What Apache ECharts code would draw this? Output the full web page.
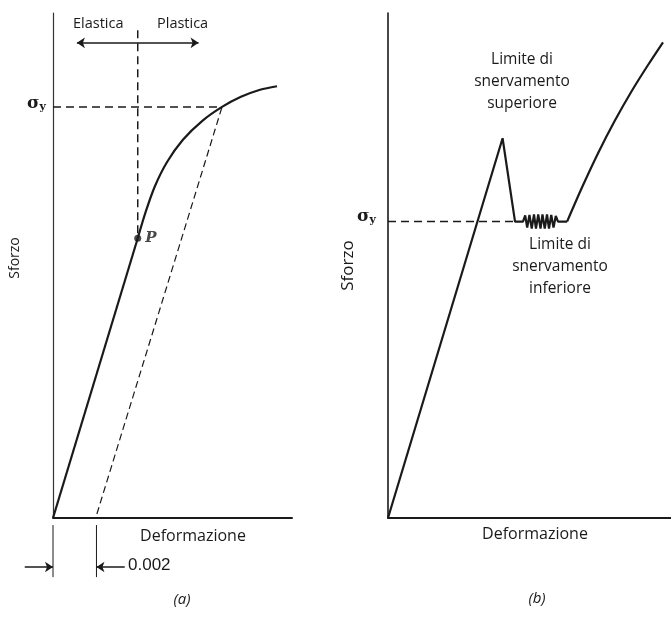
<!DOCTYPE html>
<html>
<head>
<meta charset="utf-8">
<script src="https://cdn.jsdelivr.net/npm/echarts@6/dist/echarts.min.js"></script>
<style>html,body{margin:0;padding:0;background:#fff}#c{width:671px;height:623px}</style>
</head>
<body>
<div id="c"></div>
<script>
// ---------- Data: panel (a) ----------
const aElastic = [[0, 0], [0.0039, 55.4]];
const aPlastic = [[0.0039, 55.4], [0.00428, 60.8], [0.00469, 65.7], [0.00525, 70.5], [0.00598, 74.9],
  [0.00686, 78.6], [0.00778, 81.4], [0.00865, 83.4], [0.00953, 84.8], [0.01031, 85.5]];
const aOffset = [[0.00202, 0.8], [0.00778, 81.4]];
const aSigmaY = 81.4;
const aSigmaX = 0.00778;
const aPoint = [0.0039, 55.4];
const aGuideTop = 96.6;
const aOffsetStrain = 0.002;
const aArrowY = 94.1;
const aArrowX = [0.0011, 0.0067];

// ---------- Data: panel (b) ----------
const bCurve = [[0, 0], [4.05, 75.2], [4.49, 58.7], [4.77, 58.7],
  [4.85, 59.9], [4.92, 57.5], [5.00, 60.0], [5.08, 57.3], [5.16, 60.1], [5.23, 57.3],
  [5.31, 60.1], [5.39, 57.3], [5.46, 60.1], [5.54, 57.3], [5.62, 60.1], [5.69, 57.3],
  [5.77, 60.0], [5.85, 57.5], [5.93, 59.8], [6.01, 58.7], [6.33, 58.7]];
const bRise = [[6.33, 58.7], [6.86, 65.5], [7.42, 72.2], [8.02, 78.7], [8.62, 84.6], [9.19, 89.7], [9.72, 94.2]];
const bSigmaY = 58.7;
const bSigmaEnd = 4.49;

const FONT = '"Open Sans", "DejaVu Sans", sans-serif';
const INK = '#1a1a1a';

const chart = echarts.init(document.getElementById('c'), null, {renderer: 'canvas'});

const dashed = (w) => ({color: INK, width: w, type: [8, 5]});
const plain = (w) => ({color: INK, width: w});

function axisBase(extra) {
  return Object.assign({
    type: 'value', axisTick: {show: false}, axisLabel: {show: false}, splitLine: {show: false}
  }, extra);
}

const option = {
  animation: false,
  backgroundColor: '#fff',
  grid: [
    {left: 53, top: 13, width: 239, height: 505, containLabel: false, outerBoundsMode: 'none'},
    {left: 388, top: 13, width: 290, height: 505, containLabel: false, outerBoundsMode: 'none'}
  ],
  xAxis: [
    axisBase({gridIndex: 0, min: 0, max: 0.011,
      axisLine: {lineStyle: {color: INK, width: 2}},
      name: 'Deformazione', nameLocation: 'middle', nameGap: 10,
      nameTextStyle: {fontFamily: FONT, fontSize: 16, color: INK, padding: [0, 0, 0, 41], verticalAlign: 'top'}}),
    axisBase({gridIndex: 1, min: 0, max: 10.25,
      axisLine: {lineStyle: {color: INK, width: 2}},
      name: 'Deformazione', nameLocation: 'middle', nameGap: 8,
      nameTextStyle: {fontFamily: FONT, fontSize: 16, color: INK, padding: [0, 0, 0, 4], verticalAlign: 'top'}})
  ],
  yAxis: [
    axisBase({gridIndex: 0, min: 0, max: 100,
      axisLine: {lineStyle: {color: '#333', width: 1.2}},
      name: 'Sforzo', nameLocation: 'middle', nameGap: 31, nameRotate: 90,
      nameTextStyle: {fontFamily: FONT, fontSize: 14, color: INK, padding: [0, 0, 0, 15]}}),
    axisBase({gridIndex: 1, min: 0, max: 100,
      axisLine: {lineStyle: {color: INK, width: 1.6}},
      name: 'Sforzo', nameLocation: 'middle', nameGap: 31, nameRotate: 90,
      nameTextStyle: {fontFamily: FONT, fontSize: 17, color: INK}})
  ],
  series: [
    // panel (a)
    {type: 'line', xAxisIndex: 0, yAxisIndex: 0, data: aElastic, symbol: 'none', lineStyle: plain(2.2), silent: true},
    {type: 'line', xAxisIndex: 0, yAxisIndex: 0, data: aPlastic, symbol: 'none', smooth: 0.3, lineStyle: plain(2.2), silent: true},
    {type: 'line', xAxisIndex: 0, yAxisIndex: 0, data: aOffset, symbol: 'none', lineStyle: {color: INK, width: 1.2, type: [7, 4]}, silent: true},
    {type: 'line', xAxisIndex: 0, yAxisIndex: 0, data: [[0, aSigmaY], [aSigmaX, aSigmaY]], symbol: 'none', lineStyle: dashed(1.5), silent: true},
    {type: 'line', xAxisIndex: 0, yAxisIndex: 0, data: [[aPoint[0], aGuideTop], aPoint], symbol: 'none', lineStyle: dashed(1.5), silent: true},
    {type: 'scatter', xAxisIndex: 0, yAxisIndex: 0, data: [aPoint], symbolSize: 7, itemStyle: {color: INK},
      label: {show: true, position: 'right', distance: 4, formatter: 'P',
        fontFamily: '"DejaVu Serif", "Liberation Serif", serif', fontStyle: 'italic', fontWeight: 'bold', fontSize: 15, color: INK}, silent: true},
    // offset guides below axis
    {type: 'line', xAxisIndex: 0, yAxisIndex: 0, clip: false, data: [[0, -1.4], [0, -11.7]], symbol: 'none', lineStyle: plain(1), silent: true},
    {type: 'line', xAxisIndex: 0, yAxisIndex: 0, clip: false, data: [[aOffsetStrain, -1.4], [aOffsetStrain, -11.7]], symbol: 'none', lineStyle: plain(1), silent: true},
    {type: 'lines', coordinateSystem: 'cartesian2d', xAxisIndex: 0, yAxisIndex: 0, clip: false, silent: true,
      symbol: ['none', 'arrow'], symbolSize: 8, lineStyle: {color: INK, width: 1.5, opacity: 1},
      data: [{coords: [[-0.0013, -9.7], [0, -9.7]]}, {coords: [[0.0033, -9.7], [aOffsetStrain, -9.7]]}]},
    {type: 'lines', coordinateSystem: 'cartesian2d', xAxisIndex: 0, yAxisIndex: 0, clip: false, silent: true,
      symbol: ['arrow', 'arrow'], symbolSize: 8, lineStyle: {color: INK, width: 1.5, opacity: 1},
      data: [{coords: [[aArrowX[0], aArrowY], [aArrowX[1], aArrowY]]}]},
    // panel (b)
    {type: 'line', xAxisIndex: 1, yAxisIndex: 1, data: bCurve, symbol: 'none', lineStyle: plain(2.2), silent: true},
    {type: 'line', xAxisIndex: 1, yAxisIndex: 1, data: bRise, symbol: 'none', smooth: 0.3, lineStyle: plain(2.2), silent: true},
    {type: 'line', xAxisIndex: 1, yAxisIndex: 1, data: [[0, bSigmaY], [bSigmaEnd, bSigmaY]], symbol: 'none', lineStyle: dashed(1.5), silent: true}
  ],
  graphic: [
    {type: 'text', left: 73, top: 16, style: {text: 'Elastica', font: '14.5px ' + FONT, fill: INK}},
    {type: 'text', left: 157, top: 16, style: {text: 'Plastica', font: '14.5px ' + FONT, fill: INK}},
    {type: 'text', left: 27, top: 95, style: {rich: {s: {fontFamily: '"DejaVu Serif", serif', fontWeight: 'bold', fontSize: 17, fill: INK}, y: {fontFamily: '"DejaVu Serif", serif', fontWeight: 'bold', fontSize: 11, fill: INK, padding: [8, 0, 0, 0]}}, text: '{s|σ}{y|y}'}},
    {type: 'text', left: 357, top: 208, style: {rich: {s: {fontFamily: '"DejaVu Serif", serif', fontWeight: 'bold', fontSize: 17, fill: INK}, y: {fontFamily: '"DejaVu Serif", serif', fontWeight: 'bold', fontSize: 11, fill: INK, padding: [8, 0, 0, 0]}}, text: '{s|σ}{y|y}'}},
    {type: 'text', left: 128, top: 557, style: {text: '0.002', font: '17px "Liberation Sans", Arial, sans-serif', fill: INK}},
    {type: 'text', x: 522, y: 49, style: {text: 'Limite di\nsnervamento\nsuperiore', font: '15.5px ' + FONT, fill: INK, align: 'center', lineHeight: 22}},
    {type: 'text', x: 560, y: 234, style: {text: 'Limite di\nsnervamento\ninferiore', font: '15.5px ' + FONT, fill: INK, align: 'center', lineHeight: 22}},
    {type: 'text', x: 182, y: 592, style: {text: '(a)', font: 'italic 15px ' + FONT, fill: INK, align: 'center'}},
    {type: 'text', x: 537, y: 591, style: {text: '(b)', font: 'italic 15px ' + FONT, fill: INK, align: 'center'}}
  ]
};
chart.setOption(option);
</script>
</body>
</html>
